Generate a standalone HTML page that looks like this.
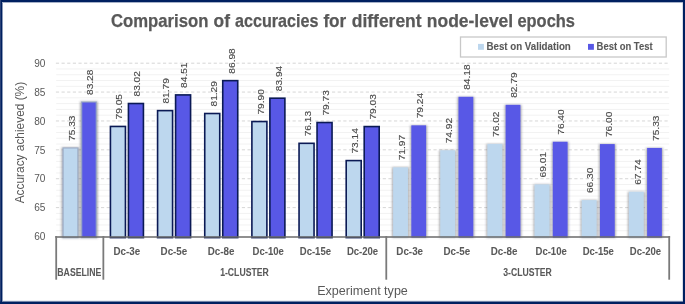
<!DOCTYPE html>
<html><head><meta charset="utf-8"><title>Comparison of accuracies for different node-level epochs</title>
<style>
html,body{margin:0;padding:0;background:#fff;}
body{width:685px;height:304px;overflow:hidden;}
svg{display:block;font-family:"Liberation Sans",sans-serif;will-change:transform;}
</style></head><body>
<svg width="685" height="304" viewBox="0 0 685 304">
<rect x="0" y="0" width="685" height="304" fill="#fff"/>
<line x1="56.2" x2="669.2" y1="230.72" y2="230.72" stroke="#F2F2F2" stroke-width="1"/>
<line x1="56.2" x2="669.2" y1="224.95" y2="224.95" stroke="#F2F2F2" stroke-width="1"/>
<line x1="56.2" x2="669.2" y1="219.17" y2="219.17" stroke="#F2F2F2" stroke-width="1"/>
<line x1="56.2" x2="669.2" y1="213.39" y2="213.39" stroke="#F2F2F2" stroke-width="1"/>
<line x1="55.9" x2="669.2" y1="207.62" y2="207.62" stroke="#D6D6D6" stroke-width="1" stroke-dasharray="3.2 2.435"/>
<line x1="56.2" x2="669.2" y1="201.84" y2="201.84" stroke="#F2F2F2" stroke-width="1"/>
<line x1="56.2" x2="669.2" y1="196.06" y2="196.06" stroke="#F2F2F2" stroke-width="1"/>
<line x1="56.2" x2="669.2" y1="190.28" y2="190.28" stroke="#F2F2F2" stroke-width="1"/>
<line x1="56.2" x2="669.2" y1="184.51" y2="184.51" stroke="#F2F2F2" stroke-width="1"/>
<line x1="55.9" x2="669.2" y1="178.73" y2="178.73" stroke="#D6D6D6" stroke-width="1" stroke-dasharray="3.2 2.435"/>
<line x1="56.2" x2="669.2" y1="172.95" y2="172.95" stroke="#F2F2F2" stroke-width="1"/>
<line x1="56.2" x2="669.2" y1="167.18" y2="167.18" stroke="#F2F2F2" stroke-width="1"/>
<line x1="56.2" x2="669.2" y1="161.40" y2="161.40" stroke="#F2F2F2" stroke-width="1"/>
<line x1="56.2" x2="669.2" y1="155.62" y2="155.62" stroke="#F2F2F2" stroke-width="1"/>
<line x1="55.9" x2="669.2" y1="149.84" y2="149.84" stroke="#D6D6D6" stroke-width="1" stroke-dasharray="3.2 2.435"/>
<line x1="56.2" x2="669.2" y1="144.07" y2="144.07" stroke="#F2F2F2" stroke-width="1"/>
<line x1="56.2" x2="669.2" y1="138.29" y2="138.29" stroke="#F2F2F2" stroke-width="1"/>
<line x1="56.2" x2="669.2" y1="132.51" y2="132.51" stroke="#F2F2F2" stroke-width="1"/>
<line x1="56.2" x2="669.2" y1="126.74" y2="126.74" stroke="#F2F2F2" stroke-width="1"/>
<line x1="55.9" x2="669.2" y1="120.96" y2="120.96" stroke="#D6D6D6" stroke-width="1" stroke-dasharray="3.2 2.435"/>
<line x1="56.2" x2="669.2" y1="115.18" y2="115.18" stroke="#F2F2F2" stroke-width="1"/>
<line x1="56.2" x2="669.2" y1="109.41" y2="109.41" stroke="#F2F2F2" stroke-width="1"/>
<line x1="56.2" x2="669.2" y1="103.63" y2="103.63" stroke="#F2F2F2" stroke-width="1"/>
<line x1="56.2" x2="669.2" y1="97.85" y2="97.85" stroke="#F2F2F2" stroke-width="1"/>
<line x1="55.9" x2="669.2" y1="92.07" y2="92.07" stroke="#D6D6D6" stroke-width="1" stroke-dasharray="3.2 2.435"/>
<line x1="56.2" x2="669.2" y1="86.30" y2="86.30" stroke="#F2F2F2" stroke-width="1"/>
<line x1="56.2" x2="669.2" y1="80.52" y2="80.52" stroke="#F2F2F2" stroke-width="1"/>
<line x1="56.2" x2="669.2" y1="74.74" y2="74.74" stroke="#F2F2F2" stroke-width="1"/>
<line x1="56.2" x2="669.2" y1="68.97" y2="68.97" stroke="#F2F2F2" stroke-width="1"/>
<line x1="55.9" x2="669.2" y1="63.19" y2="63.19" stroke="#D6D6D6" stroke-width="1" stroke-dasharray="3.2 2.435"/>
<defs><filter id="sh" x="-40%" y="-10%" width="180%" height="120%"><feMorphology in="SourceAlpha" operator="dilate" radius="1.3 0.1" result="d"/><feGaussianBlur in="d" stdDeviation="0.8" result="b"/><feFlood flood-color="#505058" flood-opacity="0.5"/><feComposite in2="b" operator="in" result="s"/><feMerge><feMergeNode in="s"/><feMergeNode in="SourceGraphic"/></feMerge></filter></defs>
<rect x="63.08" y="147.94" width="14.80" height="89.66" fill="#BDD7EE" stroke="#98A8C2" stroke-opacity="0.8" stroke-width="1.3" filter="url(#sh)"/>
<rect x="81.68" y="102.01" width="14.60" height="135.59" fill="#5858E6" stroke="#98A8C2" stroke-opacity="0.8" stroke-width="1.3" filter="url(#sh)"/>
<rect x="110.43" y="126.45" width="15.00" height="111.15" fill="#BDD7EE" stroke="#0B1A55" stroke-width="1.6"/>
<rect x="128.43" y="103.51" width="15.00" height="134.09" fill="#5858E6" stroke="#0B1A55" stroke-width="1.6"/>
<rect x="157.58" y="110.62" width="15.00" height="126.98" fill="#BDD7EE" stroke="#0B1A55" stroke-width="1.6"/>
<rect x="175.58" y="94.91" width="15.00" height="142.69" fill="#5858E6" stroke="#0B1A55" stroke-width="1.6"/>
<rect x="204.74" y="113.51" width="15.00" height="124.09" fill="#BDD7EE" stroke="#0B1A55" stroke-width="1.6"/>
<rect x="222.74" y="80.64" width="15.00" height="156.96" fill="#5858E6" stroke="#0B1A55" stroke-width="1.6"/>
<rect x="251.89" y="121.54" width="15.00" height="116.06" fill="#BDD7EE" stroke="#0B1A55" stroke-width="1.6"/>
<rect x="269.89" y="98.20" width="15.00" height="139.40" fill="#5858E6" stroke="#0B1A55" stroke-width="1.6"/>
<rect x="299.05" y="143.32" width="15.00" height="94.28" fill="#BDD7EE" stroke="#0B1A55" stroke-width="1.6"/>
<rect x="317.05" y="122.52" width="15.00" height="115.08" fill="#5858E6" stroke="#0B1A55" stroke-width="1.6"/>
<rect x="346.20" y="160.59" width="15.00" height="77.01" fill="#BDD7EE" stroke="#0B1A55" stroke-width="1.6"/>
<rect x="364.20" y="126.56" width="15.00" height="111.04" fill="#5858E6" stroke="#0B1A55" stroke-width="1.6"/>
<rect x="393.15" y="167.35" width="14.80" height="70.25" fill="#BDD7EE" filter="url(#sh)"/>
<rect x="411.35" y="125.35" width="14.75" height="112.25" fill="#5858E6" filter="url(#sh)"/>
<rect x="440.31" y="150.31" width="14.80" height="87.29" fill="#BDD7EE" filter="url(#sh)"/>
<rect x="458.51" y="96.81" width="14.75" height="140.79" fill="#5858E6" filter="url(#sh)"/>
<rect x="487.46" y="143.95" width="14.80" height="93.65" fill="#BDD7EE" filter="url(#sh)"/>
<rect x="505.66" y="104.84" width="14.75" height="132.76" fill="#5858E6" filter="url(#sh)"/>
<rect x="534.62" y="184.45" width="14.80" height="53.15" fill="#BDD7EE" filter="url(#sh)"/>
<rect x="552.82" y="141.76" width="14.75" height="95.84" fill="#5858E6" filter="url(#sh)"/>
<rect x="581.77" y="200.10" width="14.80" height="37.50" fill="#BDD7EE" filter="url(#sh)"/>
<rect x="599.97" y="144.07" width="14.75" height="93.53" fill="#5858E6" filter="url(#sh)"/>
<rect x="628.92" y="191.79" width="14.80" height="45.81" fill="#BDD7EE" filter="url(#sh)"/>
<rect x="647.12" y="147.94" width="14.75" height="89.66" fill="#5858E6" filter="url(#sh)"/>
<line x1="55.30" x2="670.10" y1="237.1" y2="237.1" stroke="#6A6A6A" stroke-opacity="0.75" stroke-width="2"/>
<line x1="56.20" x2="56.20" y1="236" y2="279.7" stroke="#7A7A7A" stroke-width="1.8"/>
<line x1="103.35" x2="103.35" y1="236" y2="279.7" stroke="#7A7A7A" stroke-width="1.8"/>
<line x1="386.28" x2="386.28" y1="236" y2="279.7" stroke="#7A7A7A" stroke-width="1.8"/>
<line x1="669.20" x2="669.20" y1="236" y2="279.7" stroke="#7A7A7A" stroke-width="1.8"/>
<text transform="translate(74.78,140.94) rotate(-90)" font-size="9.4" fill="#4A4A4A" stroke="#4A4A4A" stroke-width="0.12" textLength="25.4" lengthAdjust="spacingAndGlyphs">75.33</text>
<text transform="translate(93.28,95.01) rotate(-90)" font-size="9.4" fill="#4A4A4A" stroke="#4A4A4A" stroke-width="0.12" textLength="25.4" lengthAdjust="spacingAndGlyphs">83.28</text>
<text transform="translate(122.23,119.45) rotate(-90)" font-size="9.4" fill="#4A4A4A" stroke="#4A4A4A" stroke-width="0.12" textLength="25.4" lengthAdjust="spacingAndGlyphs">79.05</text>
<text transform="translate(140.23,96.51) rotate(-90)" font-size="9.4" fill="#4A4A4A" stroke="#4A4A4A" stroke-width="0.12" textLength="25.4" lengthAdjust="spacingAndGlyphs">83.02</text>
<text transform="translate(169.38,103.62) rotate(-90)" font-size="9.4" fill="#4A4A4A" stroke="#4A4A4A" stroke-width="0.12" textLength="25.4" lengthAdjust="spacingAndGlyphs">81.79</text>
<text transform="translate(187.38,87.91) rotate(-90)" font-size="9.4" fill="#4A4A4A" stroke="#4A4A4A" stroke-width="0.12" textLength="25.4" lengthAdjust="spacingAndGlyphs">84.51</text>
<text transform="translate(216.54,106.51) rotate(-90)" font-size="9.4" fill="#4A4A4A" stroke="#4A4A4A" stroke-width="0.12" textLength="25.4" lengthAdjust="spacingAndGlyphs">81.29</text>
<text transform="translate(234.54,73.64) rotate(-90)" font-size="9.4" fill="#4A4A4A" stroke="#4A4A4A" stroke-width="0.12" textLength="25.4" lengthAdjust="spacingAndGlyphs">86.98</text>
<text transform="translate(263.69,114.54) rotate(-90)" font-size="9.4" fill="#4A4A4A" stroke="#4A4A4A" stroke-width="0.12" textLength="25.4" lengthAdjust="spacingAndGlyphs">79.90</text>
<text transform="translate(281.69,91.20) rotate(-90)" font-size="9.4" fill="#4A4A4A" stroke="#4A4A4A" stroke-width="0.12" textLength="25.4" lengthAdjust="spacingAndGlyphs">83.94</text>
<text transform="translate(310.85,136.32) rotate(-90)" font-size="9.4" fill="#4A4A4A" stroke="#4A4A4A" stroke-width="0.12" textLength="25.4" lengthAdjust="spacingAndGlyphs">76.13</text>
<text transform="translate(328.85,115.52) rotate(-90)" font-size="9.4" fill="#4A4A4A" stroke="#4A4A4A" stroke-width="0.12" textLength="25.4" lengthAdjust="spacingAndGlyphs">79.73</text>
<text transform="translate(358.00,153.59) rotate(-90)" font-size="9.4" fill="#4A4A4A" stroke="#4A4A4A" stroke-width="0.12" textLength="25.4" lengthAdjust="spacingAndGlyphs">73.14</text>
<text transform="translate(376.00,119.56) rotate(-90)" font-size="9.4" fill="#4A4A4A" stroke="#4A4A4A" stroke-width="0.12" textLength="25.4" lengthAdjust="spacingAndGlyphs">79.03</text>
<text transform="translate(404.85,160.35) rotate(-90)" font-size="9.4" fill="#4A4A4A" stroke="#4A4A4A" stroke-width="0.12" textLength="25.4" lengthAdjust="spacingAndGlyphs">71.97</text>
<text transform="translate(423.03,118.35) rotate(-90)" font-size="9.4" fill="#4A4A4A" stroke="#4A4A4A" stroke-width="0.12" textLength="25.4" lengthAdjust="spacingAndGlyphs">79.24</text>
<text transform="translate(452.01,143.31) rotate(-90)" font-size="9.4" fill="#4A4A4A" stroke="#4A4A4A" stroke-width="0.12" textLength="25.4" lengthAdjust="spacingAndGlyphs">74.92</text>
<text transform="translate(470.18,89.81) rotate(-90)" font-size="9.4" fill="#4A4A4A" stroke="#4A4A4A" stroke-width="0.12" textLength="25.4" lengthAdjust="spacingAndGlyphs">84.18</text>
<text transform="translate(499.16,136.95) rotate(-90)" font-size="9.4" fill="#4A4A4A" stroke="#4A4A4A" stroke-width="0.12" textLength="25.4" lengthAdjust="spacingAndGlyphs">76.02</text>
<text transform="translate(517.34,97.84) rotate(-90)" font-size="9.4" fill="#4A4A4A" stroke="#4A4A4A" stroke-width="0.12" textLength="25.4" lengthAdjust="spacingAndGlyphs">82.79</text>
<text transform="translate(546.32,177.45) rotate(-90)" font-size="9.4" fill="#4A4A4A" stroke="#4A4A4A" stroke-width="0.12" textLength="25.4" lengthAdjust="spacingAndGlyphs">69.01</text>
<text transform="translate(564.49,134.76) rotate(-90)" font-size="9.4" fill="#4A4A4A" stroke="#4A4A4A" stroke-width="0.12" textLength="25.4" lengthAdjust="spacingAndGlyphs">76.40</text>
<text transform="translate(593.47,193.10) rotate(-90)" font-size="9.4" fill="#4A4A4A" stroke="#4A4A4A" stroke-width="0.12" textLength="25.4" lengthAdjust="spacingAndGlyphs">66.30</text>
<text transform="translate(611.64,137.07) rotate(-90)" font-size="9.4" fill="#4A4A4A" stroke="#4A4A4A" stroke-width="0.12" textLength="25.4" lengthAdjust="spacingAndGlyphs">76.00</text>
<text transform="translate(640.62,184.79) rotate(-90)" font-size="9.4" fill="#4A4A4A" stroke="#4A4A4A" stroke-width="0.12" textLength="25.4" lengthAdjust="spacingAndGlyphs">67.74</text>
<text transform="translate(658.80,140.94) rotate(-90)" font-size="9.4" fill="#4A4A4A" stroke="#4A4A4A" stroke-width="0.12" textLength="25.4" lengthAdjust="spacingAndGlyphs">75.33</text>
<text x="45.4" y="240.20" font-size="10.1" fill="#595959" text-anchor="end">60</text>
<text x="45.4" y="211.31" font-size="10.1" fill="#595959" text-anchor="end">65</text>
<text x="45.4" y="182.43" font-size="10.1" fill="#595959" text-anchor="end">70</text>
<text x="45.4" y="153.54" font-size="10.1" fill="#595959" text-anchor="end">75</text>
<text x="45.4" y="124.66" font-size="10.1" fill="#595959" text-anchor="end">80</text>
<text x="45.4" y="95.77" font-size="10.1" fill="#595959" text-anchor="end">85</text>
<text x="45.4" y="66.89" font-size="10.1" fill="#595959" text-anchor="end">90</text>
<text x="113.43" y="254.50" font-size="10.0" font-weight="bold" stroke="#595959" stroke-width="0.05" fill="#595959" textLength="26.69" lengthAdjust="spacingAndGlyphs">Dc-3e</text>
<text x="160.58" y="254.50" font-size="10.0" font-weight="bold" stroke="#595959" stroke-width="0.05" fill="#595959" textLength="26.69" lengthAdjust="spacingAndGlyphs">Dc-5e</text>
<text x="207.73" y="254.50" font-size="10.0" font-weight="bold" stroke="#595959" stroke-width="0.05" fill="#595959" textLength="26.69" lengthAdjust="spacingAndGlyphs">Dc-8e</text>
<text x="252.60" y="254.50" font-size="10.0" font-weight="bold" stroke="#595959" stroke-width="0.05" fill="#595959" textLength="31.26" lengthAdjust="spacingAndGlyphs">Dc-10e</text>
<text x="299.76" y="254.50" font-size="10.0" font-weight="bold" stroke="#595959" stroke-width="0.05" fill="#595959" textLength="31.26" lengthAdjust="spacingAndGlyphs">Dc-15e</text>
<text x="346.91" y="254.50" font-size="10.0" font-weight="bold" stroke="#595959" stroke-width="0.05" fill="#595959" textLength="31.26" lengthAdjust="spacingAndGlyphs">Dc-20e</text>
<text x="396.35" y="254.50" font-size="10.0" font-weight="bold" stroke="#595959" stroke-width="0.05" fill="#595959" textLength="26.69" lengthAdjust="spacingAndGlyphs">Dc-3e</text>
<text x="443.50" y="254.50" font-size="10.0" font-weight="bold" stroke="#595959" stroke-width="0.05" fill="#595959" textLength="26.69" lengthAdjust="spacingAndGlyphs">Dc-5e</text>
<text x="490.66" y="254.50" font-size="10.0" font-weight="bold" stroke="#595959" stroke-width="0.05" fill="#595959" textLength="26.69" lengthAdjust="spacingAndGlyphs">Dc-8e</text>
<text x="535.53" y="254.50" font-size="10.0" font-weight="bold" stroke="#595959" stroke-width="0.05" fill="#595959" textLength="31.26" lengthAdjust="spacingAndGlyphs">Dc-10e</text>
<text x="582.68" y="254.50" font-size="10.0" font-weight="bold" stroke="#595959" stroke-width="0.05" fill="#595959" textLength="31.26" lengthAdjust="spacingAndGlyphs">Dc-15e</text>
<text x="629.84" y="254.50" font-size="10.0" font-weight="bold" stroke="#595959" stroke-width="0.05" fill="#595959" textLength="31.26" lengthAdjust="spacingAndGlyphs">Dc-20e</text>
<text x="57.32" y="275.80" font-size="10.0" font-weight="bold" stroke="#595959" stroke-width="0.05" fill="#595959" textLength="44.02" lengthAdjust="spacingAndGlyphs">BASELINE</text>
<text x="220.15" y="275.80" font-size="10.0" font-weight="bold" stroke="#595959" stroke-width="0.05" fill="#595959" textLength="48.62" lengthAdjust="spacingAndGlyphs">1-CLUSTER</text>
<text x="503.20" y="275.80" font-size="10.0" font-weight="bold" stroke="#595959" stroke-width="0.05" fill="#595959" textLength="48.58" lengthAdjust="spacingAndGlyphs">3-CLUSTER</text>
<text transform="translate(23.80,203.32) rotate(-90)" font-size="12.6" fill="#595959" textLength="121.46" lengthAdjust="spacingAndGlyphs">Accuracy achieved (%)</text>
<text x="317.17" y="294.60" font-size="12.6" fill="#595959" textLength="90.69" lengthAdjust="spacingAndGlyphs">Experiment type</text>
<text x="111.02" y="26.50" font-size="18.2" font-weight="bold" stroke="#595959" stroke-width="0.25" fill="#595959" textLength="97.42" lengthAdjust="spacingAndGlyphs">Comparison</text>
<text x="213.62" y="26.50" font-size="18.2" font-weight="bold" stroke="#595959" stroke-width="0.25" fill="#595959" textLength="16.34" lengthAdjust="spacingAndGlyphs">of</text>
<text x="235.03" y="26.50" font-size="18.2" font-weight="bold" stroke="#595959" stroke-width="0.25" fill="#595959" textLength="83.43" lengthAdjust="spacingAndGlyphs">accuracies</text>
<text x="323.41" y="26.50" font-size="18.2" font-weight="bold" stroke="#595959" stroke-width="0.25" fill="#595959" textLength="22.85" lengthAdjust="spacingAndGlyphs">for</text>
<text x="351.78" y="26.50" font-size="18.2" font-weight="bold" stroke="#595959" stroke-width="0.25" fill="#595959" textLength="69.83" lengthAdjust="spacingAndGlyphs">different</text>
<text x="426.85" y="26.50" font-size="18.2" font-weight="bold" stroke="#595959" stroke-width="0.25" fill="#595959" textLength="86.29" lengthAdjust="spacingAndGlyphs">node-level</text>
<text x="517.46" y="26.50" font-size="18.2" font-weight="bold" stroke="#595959" stroke-width="0.25" fill="#595959" textLength="57.52" lengthAdjust="spacingAndGlyphs">epochs</text>
<rect x="460.5" y="37" width="205.7" height="20" fill="none" stroke="#C8C8C8" stroke-width="1.3"/>
<rect x="478" y="43.9" width="5.9" height="5.9" fill="#BDD7EE"/>
<rect x="588" y="43.9" width="5.9" height="5.9" fill="#5858E6"/>
<text x="486.45" y="49.90" font-size="10.2" font-weight="bold" stroke="#595959" stroke-width="0.1" fill="#595959" textLength="84.35" lengthAdjust="spacingAndGlyphs">Best on Validation</text>
<text x="596.58" y="49.90" font-size="10.2" font-weight="bold" stroke="#595959" stroke-width="0.1" fill="#595959" textLength="56.04" lengthAdjust="spacingAndGlyphs">Best on Test</text>
<rect x="0" y="0" width="685" height="2" fill="#002060"/>
<rect x="0" y="2" width="685" height="1" fill="#002060" fill-opacity="0.35"/>
<rect x="0" y="0" width="1" height="304" fill="#2A4278"/>
<rect x="1" y="0" width="1" height="304" fill="#002060"/>
<rect x="2" y="3" width="1" height="298" fill="#002060" fill-opacity="0.45"/>
<rect x="682" y="3" width="1" height="298" fill="#002060" fill-opacity="0.15"/>
<rect x="683" y="0" width="2" height="304" fill="#002060"/>
<rect x="3" y="300" width="679" height="1" fill="#002060" fill-opacity="0.08"/>
<rect x="0" y="301" width="685" height="1" fill="#002060" fill-opacity="0.55"/>
<rect x="0" y="302" width="685" height="2" fill="#002060"/>
</svg>
</body></html>
